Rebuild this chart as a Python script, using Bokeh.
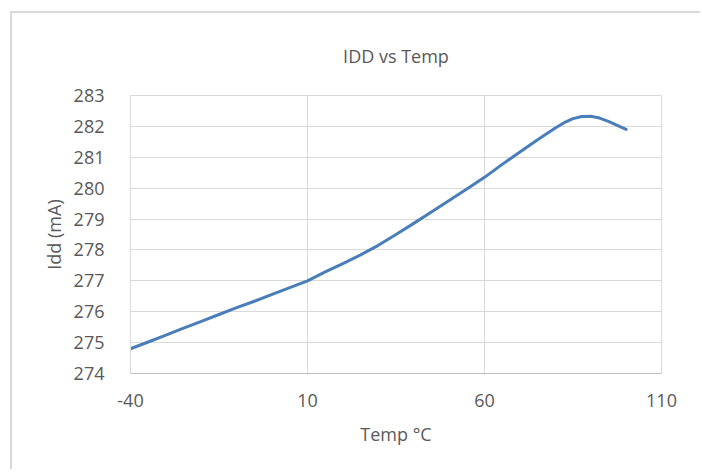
from bokeh.plotting import figure
from bokeh.models import FixedTicker, Range1d
from bokeh.embed import file_html
from bokeh.resources import INLINE

# Data
temp_c = [-40, -35, -30, -25, -20, -15, -10, -5, 0, 5, 10, 15, 20, 25, 30, 35, 40,
          45, 50, 55, 60, 65, 70, 75, 80, 82.5, 85, 87.5, 90, 92.5, 95, 97.5, 100]
idd_ma = [274.80, 275.02, 275.24, 275.47, 275.69, 275.91, 276.13, 276.34, 276.56, 276.78,
          277.00, 277.29, 277.56, 277.84, 278.15, 278.50, 278.86, 279.23, 279.60, 279.97,
          280.35, 280.77, 281.17, 281.57, 281.95, 282.12, 282.25, 282.32, 282.33, 282.27,
          282.16, 282.03, 281.90]

x_ticks = [-40, 10, 60, 110]
y_ticks = [274, 275, 276, 277, 278, 279, 280, 281, 282, 283]

title_text = "IDD vs Temp"
x_label = "Temp \u00b0C"
y_label = "Idd (mA)"

FONT = "Open Sans"
GREY_TEXT = "#595959"
GRID = "#D9D9D9"

p = figure(width=690, height=458, output_backend="svg", toolbar_location=None,
           x_range=Range1d(-40, 110), y_range=Range1d(274, 283),
           min_border_left=118, min_border_right=41, min_border_top=82, min_border_bottom=98)
p.styles = {"margin-left": "10px", "margin-top": "11px",
            "border-top": "2px solid #D9D9D9", "border-left": "2px solid #D9D9D9",
            "border-right": "0px none", "border-bottom": "0px none"}

p.title.text = title_text
p.title.align = "center"
p.title.text_font = FONT
p.title.text_font_size = "18px"
p.title.text_font_style = "normal"
p.title.text_color = GREY_TEXT
p.title.standoff = 56

p.line(temp_c, idd_ma, line_color="#4A7EBB", line_width=3, line_join="round", line_cap="round")

for ax in (p.xaxis[0], p.yaxis[0]):
    ax.major_tick_line_color = None
    ax.minor_tick_line_color = None
    ax.major_label_text_font = FONT
    ax.major_label_text_font_size = "18px"
    ax.major_label_text_color = GREY_TEXT
    ax.axis_label_text_font = FONT
    ax.axis_label_text_font_size = "18px"
    ax.axis_label_text_font_style = "normal"
    ax.axis_label_text_color = GREY_TEXT

p.xaxis.ticker = FixedTicker(ticks=x_ticks)
p.yaxis.ticker = FixedTicker(ticks=y_ticks)
p.xaxis.major_label_overrides = {t: str(t) for t in x_ticks}
p.xaxis.axis_label = x_label
p.yaxis.axis_label = y_label
p.xaxis.axis_line_color = "#BFBFBF"
p.yaxis.axis_line_color = GRID
p.xaxis.major_label_standoff = 14
p.yaxis.major_label_standoff = 20
p.xaxis.axis_label_standoff = 12
p.yaxis.axis_label_standoff = 5

p.xgrid.grid_line_color = GRID
p.ygrid.grid_line_color = GRID
p.xgrid.ticker = FixedTicker(ticks=x_ticks)
p.ygrid.ticker = FixedTicker(ticks=y_ticks)
p.outline_line_color = GRID
p.background_fill_color = "white"
p.border_fill_color = "white"

open("out.html", "w").write(file_html(p, INLINE))
